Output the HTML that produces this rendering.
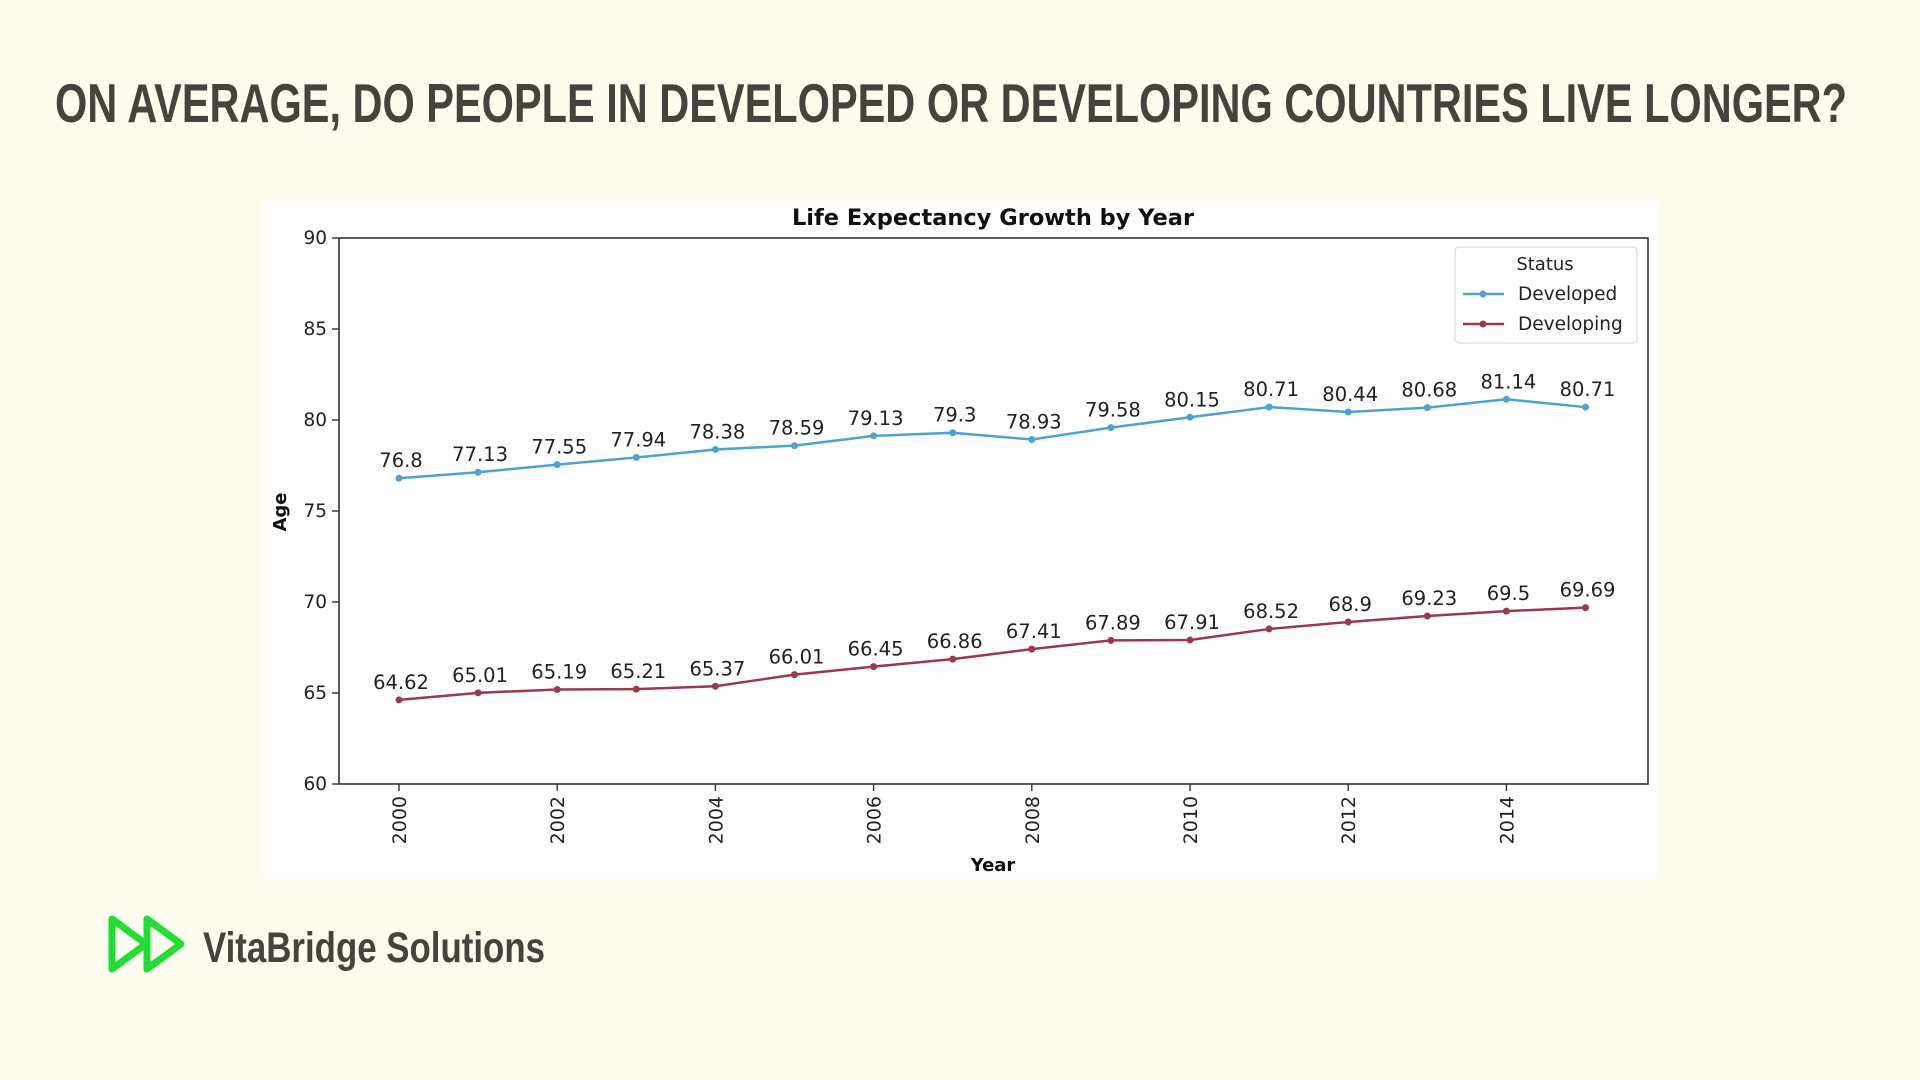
<!DOCTYPE html>
<html><head><meta charset="utf-8"><style>
html,body{margin:0;padding:0;background:#fefbef;}
svg{display:block;font-family:"DejaVu Sans","Liberation Sans",sans-serif;}
</style></head><body>
<svg id="chart" width="1920" height="1080" viewBox="0 0 1920 1080">
<rect width="1920" height="1080" fill="#fefbef"/>
<text x="55" y="122" font-family="'Liberation Sans Narrow','Liberation Sans',sans-serif" font-weight="bold" font-size="55" fill="#48423e" textLength="1792" lengthAdjust="spacingAndGlyphs">ON AVERAGE, DO PEOPLE IN DEVELOPED OR DEVELOPING COUNTRIES LIVE LONGER?</text>
<rect x="263" y="199" width="1394" height="680" fill="#ffffff"/>
<text x="993" y="225" text-anchor="middle" font-weight="bold" font-size="22.5" fill="#111">Life Expectancy Growth by Year</text>
<g id="plot"></g>
<text transform="translate(286,512) rotate(-90)" text-anchor="middle" font-weight="bold" font-size="18" fill="#111">Age</text>
<text x="993" y="871" text-anchor="middle" font-weight="bold" font-size="18" fill="#111">Year</text>
<g>
<rect x="1455" y="247" width="182" height="96" rx="4" fill="#fff" stroke="#d0d0d0"/>
<text x="1545" y="270" text-anchor="middle" font-size="18" fill="#222">Status</text>
<line x1="1463" y1="294" x2="1504" y2="294" stroke="#4fa3d1" stroke-width="2.5"/>
<circle cx="1483" cy="294" r="3.5" fill="#4fa3d1"/>
<text x="1518" y="300" font-size="18.5" fill="#222">Developed</text>
<line x1="1463" y1="324" x2="1504" y2="324" stroke="#9b3a4f" stroke-width="2.5"/>
<circle cx="1483" cy="324" r="3.5" fill="#9b3a4f"/>
<text x="1518" y="330" font-size="18.5" fill="#222">Developing</text>
</g>
<g>
<g fill="none" stroke="#22dd33" stroke-width="7" stroke-linejoin="round">
<path d="M112,919 L146,944 L112,969 Z"/>
<path d="M147,919 L181,944 L147,969 Z"/>
</g>
<text x="203" y="962" font-family="'Liberation Sans Narrow','Liberation Sans',sans-serif" font-weight="bold" font-size="43" fill="#48423e" textLength="342" lengthAdjust="spacingAndGlyphs">VitaBridge Solutions</text>
</g>
</svg>
<script>
const years = [2000,2001,2002,2003,2004,2005,2006,2007,2008,2009,2010,2011,2012,2013,2014,2015];
const developed = [76.8,77.13,77.55,77.94,78.38,78.59,79.13,79.3,78.93,79.58,80.15,80.71,80.44,80.68,81.14,80.71];
const developing = [64.62,65.01,65.19,65.21,65.37,66.01,66.45,66.86,67.41,67.89,67.91,68.52,68.9,69.23,69.5,69.69];
const yTicks = [60,65,70,75,80,85,90];
const xTicks = [2000,2002,2004,2006,2008,2010,2012,2014];

const NS = "http://www.w3.org/2000/svg";
const L = 339, R = 1648, T = 238, B = 784;
const x = v => 399 + (v - 2000) * 79.1;
const y = v => B - (v - 60) / 30 * (B - T);
const plot = document.getElementById('plot');
function mk(tag, attrs, parent) {
  const e = document.createElementNS(NS, tag);
  for (const k in attrs) e.setAttribute(k, attrs[k]);
  (parent || plot).appendChild(e);
  return e;
}
const frame = mk('rect', {x: L, y: T, width: R - L, height: B - T, fill: 'none', stroke: '#333', 'stroke-width': 1.6});


yTicks.forEach(t => {
  const tk = mk('line', {x1: L - 7, x2: L, y1: y(t), y2: y(t), stroke: '#333', 'stroke-width': 1.4});
  
  
  const lb = mk('text', {x: L - 12, y: y(t) + 6, 'text-anchor': 'end', 'font-size': 18.5, fill: '#222'});
  lb.textContent = t;
  
  
});
xTicks.forEach(t => {
  const tk = mk('line', {x1: x(t), x2: x(t), y1: B, y2: B + 7, stroke: '#333', 'stroke-width': 1.4});
  
  
  const lb = mk('text', {transform: `translate(${x(t) + 7},${B + 12}) rotate(-90)`, 'text-anchor': 'end', 'font-size': 19, fill: '#222'});
  lb.textContent = t;
  
  
});
function series(vals, color, name) {
  const pts = vals.map((v, i) => x(years[i]) + ',' + y(v)).join(' ');
  const pl = mk('polyline', {points: pts, fill: 'none', stroke: color, 'stroke-width': 2.5});
  
  
  vals.forEach((v, i) => {
    const c = mk('circle', {cx: x(years[i]), cy: y(v), r: 3.5, fill: color});
    
    
    const t = mk('text', {x: x(years[i]) + 2, y: y(v) - 11, 'text-anchor': 'middle', 'font-size': 19.5, fill: '#222'});
    t.textContent = v;
    
    
  });
}
series(developed, '#4fa3d1', 'developed');
series(developing, '#9b3a4f', 'developing');
</script>
</body></html>
